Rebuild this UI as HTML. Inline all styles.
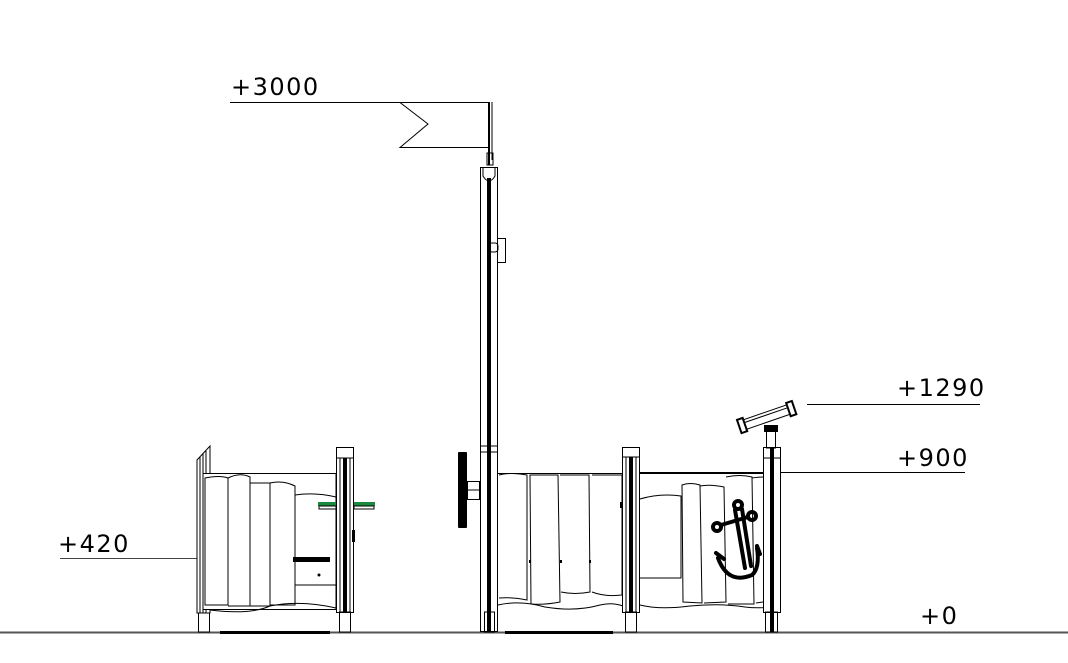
<!DOCTYPE html>
<html><head><meta charset="utf-8"><style>
html,body{margin:0;padding:0;background:#fff;}
svg{display:block}
text{font-family:"DejaVu Sans",sans-serif;font-size:24px;letter-spacing:1.5px;fill:#000}
</style></head><body>
<svg width="1068" height="663" viewBox="0 0 1068 663" xmlns="http://www.w3.org/2000/svg">
<g fill="none" stroke="#000" stroke-width="1">
<line x1="0" y1="632.5" x2="1068" y2="632.5" stroke="#555" stroke-width="2"/>
<rect x="220" y="631" width="110" height="3" fill="#000" stroke="none"/>
<rect x="505" y="631" width="108" height="3" fill="#000" stroke="none"/>

<line x1="230" y1="102.5" x2="490" y2="102.5"/>
<line x1="807" y1="404.5" x2="980" y2="404.5"/>
<line x1="640" y1="472.5" x2="965" y2="472.5"/>
<line x1="60" y1="558.5" x2="335" y2="558.5" stroke="#444"/>

<polygon points="400,102.5 489,102.5 489,147.5 400,147.5 428,124"/>
<line x1="489" y1="102" x2="489" y2="165" stroke-width="2"/>
<line x1="492" y1="102" x2="492" y2="160"/>
<rect x="487" y="153" width="6" height="12"/>
<rect x="480.5" y="167.5" width="17" height="464"/>
<rect x="487" y="178" width="4" height="453" fill="#000" stroke="none"/>
<path d="M483,168 L483,176 Q489,186 495,176 L495,168"/>
<rect x="489" y="243" width="9" height="9" rx="3"/>
<rect x="497.5" y="238.5" width="8" height="24"/>
<line x1="480" y1="446" x2="498" y2="446"/>
<line x1="480" y1="452" x2="498" y2="452"/>
<rect x="458" y="452" width="9" height="76" rx="1" fill="#000" stroke="none"/>
<rect x="467.5" y="481.5" width="12" height="18"/>
<line x1="467" y1="490" x2="480" y2="490"/>

<polygon points="197,460 210,446 210,613 197,613" fill="#fff"/>
<line x1="200" y1="457" x2="200" y2="613"/>
<line x1="203" y1="454" x2="203" y2="613"/>
<line x1="206" y1="451" x2="206" y2="613"/>
<rect x="198.5" y="613" width="11" height="19"/>
<rect x="203" y="473.5" width="133" height="136" fill="#fff"/>
<path d="M205,478 Q220,475 228,478 L228,605 L205,605 Z"/>
<path d="M228,478 Q240,472 250,477 L250,606 L228,606"/>
<path d="M250,483 L270,483 L270,606 L250,606"/>
<path d="M270,483 Q283,480 295,486 L295,605 L270,605"/>
<path d="M295,495 Q315,492 336,497"/>
<path d="M295,585 L336,585"/>
<path d="M210,610 Q250,615 270,606 Q300,600 336,608"/>
<rect x="293" y="557" width="37" height="5" fill="#000" stroke="none"/>
<circle cx="319" cy="575" r="1" fill="#000"/>
<rect x="336.5" y="447.5" width="17" height="165" fill="#fff"/>
<line x1="336" y1="458" x2="354" y2="458"/>
<line x1="340" y1="458" x2="340" y2="612"/>
<line x1="350" y1="458" x2="350" y2="612"/>
<rect x="343" y="458" width="4" height="154" fill="#000" stroke="none"/>
<rect x="339.5" y="612" width="11" height="20"/>
<rect x="352" y="530" width="3" height="12" fill="#000" stroke="none"/>
<rect x="318" y="502" width="18" height="4" fill="#1a8a3e" stroke="none"/>
<rect x="354" y="502" width="21" height="4" fill="#1a8a3e" stroke="none"/>
<rect x="319" y="506" width="17" height="3"/>
<rect x="354" y="506" width="20" height="3"/>

<rect x="498" y="473.5" width="125" height="136" fill="#fff" stroke="none"/>
<line x1="498" y1="473.5" x2="623" y2="473.5"/>
<path d="M499,475 Q510,472 527,475 L527,600 Q512,597 499,598"/>
<path d="M530,475 L558,475 L560,602 Q545,605 531,604 Z"/>
<path d="M560,475 L589,475 L590,592 Q575,595 561,592"/>
<path d="M592,475 L622,475 L622,595 Q605,597 592,592"/>
<path d="M498,605 Q520,600 545,607 Q575,612 600,605 Q612,602 623,606"/>
<rect x="529" y="560" width="2" height="3" fill="#000" stroke="none"/>
<rect x="560" y="560" width="2" height="3" fill="#000" stroke="none"/>
<rect x="589" y="560" width="2" height="3" fill="#000" stroke="none"/>
<rect x="622.5" y="447.5" width="17" height="165" fill="#fff"/>
<line x1="622" y1="457" x2="640" y2="457"/>
<line x1="626" y1="457" x2="626" y2="612"/>
<line x1="636" y1="457" x2="636" y2="612"/>
<rect x="629" y="457" width="4" height="155" fill="#000" stroke="none"/>
<rect x="625.5" y="612" width="11" height="20"/>
<rect x="484.5" y="612" width="10" height="20"/>
<rect x="620" y="502" width="3" height="6" fill="#000" stroke="none"/>
<rect x="640" y="502" width="18" height="6" rx="2" fill="#000" stroke="none"/>

<rect x="640" y="473.5" width="125" height="136" fill="#fff" stroke="none"/>
<line x1="640" y1="473.5" x2="765" y2="473.5"/>
<path d="M640,499 Q660,493 681,496 L681,578 L640,578"/>
<path d="M682,485 Q690,482 700,485 L702,603 L683,602 Z"/>
<path d="M700,486 Q710,484 724,487 L726,602 L704,603"/>
<path d="M726,477 Q740,474 752,477 L754,604 L728,604"/>
<path d="M752,478 Q765,476 770,478 L778,482 L778,600 L756,603"/>
<path d="M640,605 Q660,610 690,606 Q720,603 745,607 Q760,609 778,606"/>
<g stroke="#000" stroke-width="4" fill="none" stroke-linecap="round">
<circle cx="738" cy="505" r="4"/>
<circle cx="717" cy="527" r="4"/>
<circle cx="752" cy="516" r="4"/>
<line x1="721" y1="525" x2="748" y2="517"/>
<path d="M735,510 L745,568 M742,509 L751,566"/>
<path d="M718,558 Q728,585 752,575 Q760,568 757,548"/>
<path d="M716,553 L724,559 M757,546 L760,554"/>
</g>
<rect x="763.5" y="447.5" width="17" height="165" fill="#fff"/>
<line x1="763" y1="458" x2="781" y2="458"/>
<rect x="770" y="448" width="4" height="184" fill="#000" stroke="none"/>
<rect x="765.5" y="612" width="12" height="20"/>
<rect x="766.5" y="430" width="9" height="18"/>
<rect x="764" y="425" width="14" height="7" fill="#000" stroke="none"/>
<g transform="rotate(-19 767 418)">
<rect x="738" y="412" width="58" height="10" fill="#fff"/>
<rect x="738" y="410" width="6" height="14" fill="#fff" stroke-width="2"/>
<rect x="790" y="410" width="6" height="14" fill="#fff" stroke-width="2"/>
<line x1="744" y1="415" x2="790" y2="415"/>
</g>
</g>
<text x="231" y="95">+3000</text>
<text x="897" y="396">+1290</text>
<text x="897" y="466">+900</text>
<text x="58" y="552">+420</text>
<text x="920" y="624">+0</text>
</svg>
</body></html>
